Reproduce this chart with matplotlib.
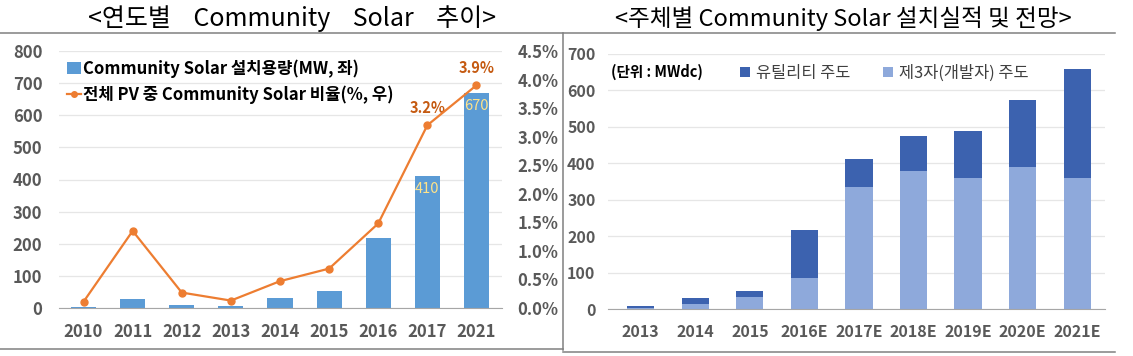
import matplotlib
matplotlib.use("Agg")
import matplotlib.pyplot as plt
from matplotlib.lines import Line2D
from matplotlib.patches import Patch
import numpy as np

plt.rcParams['font.family'] = ['Noto Sans CJK KR', 'DejaVu Sans']

# left chart data
years = ['2010', '2011', '2012', '2013', '2014', '2015', '2016', '2017', '2021']
capacity = [4, 27, 8, 5, 31, 52, 217, 410, 670]
share = [0.11, 1.35, 0.27, 0.13, 0.47, 0.69, 1.48, 3.2, 3.9]

# right chart data
years2 = ['2013', '2014', '2015', '2016E', '2017E', '2018E', '2019E', '2020E', '2021E']
third_party = [4, 15, 32, 86, 335, 380, 360, 390, 360]
utility = [4, 16, 18, 131, 76, 95, 129, 185, 298]

blue = '#5B9BD5'
orange = '#ED7D31'
dark = '#3C62AF'
light = '#8EA9DB'
tick_c = '#595959'
W, H = 1133, 356

fig = plt.figure(figsize=(W / 100, H / 100), dpi=100)

def fx(px):
    return px / W

def fy(py):
    return 1 - py / H

# frame lines
fc = '#808080'
fig.add_artist(Line2D([0, fx(1115)], [fy(33), fy(33)], color=fc, lw=1.1))
fig.add_artist(Line2D([fx(563), fx(563)], [fy(33), fy(350)], color=fc, lw=1.1))
fig.add_artist(Line2D([0, fx(563)], [fy(348.5), fy(348.5)], color=fc, lw=1.1))
fig.add_artist(Line2D([fx(563), fx(1115)], [fy(351.5), fy(351.5)], color=fc, lw=1.1))

fig.text(fx(292), fy(19), '<연도별    Community    Solar    추이>', ha='center', va='center',
         fontsize=18, color='black')
fig.text(fx(843), fy(19), '<주체별 Community Solar 설치실적 및 전망>', ha='center', va='center',
         fontsize=17, color='black')

# ---------- left chart ----------
ax = fig.add_axes([fx(59), fy(308), fx(502 - 59), fy(51) - fy(308)])
x = np.arange(len(years))
ax.bar(x, capacity, width=0.51, color=blue, zorder=2)
ax.set_ylim(0, 800)
ax.set_xlim(-0.5, len(years) - 0.48)
ax.set_yticks(range(0, 801, 100))
ax.yaxis.grid(True, color='#E6E6E6', lw=0.9, zorder=0)
ax.set_xticks(x)
ax.set_xticklabels(years)
for s in ['top', 'right', 'left']:
    ax.spines[s].set_visible(False)
ax.spines['bottom'].set_color('#A6A6A6')
ax.tick_params(length=0, labelcolor=tick_c, labelsize=12, pad=11)
ax.tick_params(axis='y', pad=12)
for lab in ax.get_xticklabels() + ax.get_yticklabels():
    lab.set_fontweight('bold')

ax2 = ax.twinx()
ax2.plot(x, share, color=orange, lw=1.6, marker='o', ms=5, zorder=4)
ax2.set_ylim(0, 4.5)
ax2.set_yticks(np.arange(0, 4.51, 0.5))
ax2.set_yticklabels(['%.1f%%' % v for v in np.arange(0, 4.51, 0.5)])
for s in ['top', 'right', 'left', 'bottom']:
    ax2.spines[s].set_visible(False)
ax2.tick_params(length=0, labelcolor=tick_c, labelsize=12, pad=11)
for lab in ax2.get_yticklabels():
    lab.set_fontweight('bold')
for i in [7, 8]:
    ax2.text(x[i], share[i] + 0.31, '%.1f%%' % share[i], ha='center', va='center',
             color='#C55A11', fontsize=10.5, fontweight='bold')
    # bar value labels drawn on top of the line
    ax2.text(x[i], capacity[i] - 40, str(capacity[i]), transform=ax.transData,
             ha='center', va='center', color='#FFE38A', fontsize=10.5, zorder=6)

h1 = Patch(facecolor=blue)
h2 = Line2D([], [], color=orange, lw=1.6, marker='o', ms=4)
leg = ax2.legend([h1, h2], ['Community Solar 설치용량(MW, 좌)', '전체 PV 중 Community Solar 비율(%, 우)'],
                 loc='upper left', bbox_to_anchor=(0.0, 1.0), frameon=False,
                 prop={'weight': 'bold', 'size': 12}, handlelength=0.8, handletextpad=0.15,
                 labelspacing=0.45, borderaxespad=0.1)

# ---------- right chart ----------
bx = fig.add_axes([fx(608), fy(309), fx(1105 - 608), fy(54) - fy(309)])
x2 = np.arange(len(years2))
bx.bar(x2, third_party, width=0.5, color=light, zorder=2, label='제3자(개발자) 주도')
bx.bar(x2, utility, width=0.5, bottom=third_party, color=dark, zorder=2, label='유틸리티 주도')
bx.set_ylim(0, 700)
bx.set_xlim(-0.6, len(years2) - 0.49)
bx.set_yticks(range(0, 701, 100))
bx.yaxis.grid(True, color='#E6E6E6', lw=0.9, zorder=0)
bx.set_xticks(x2)
bx.set_xticklabels(years2)
for s in ['top', 'right', 'left']:
    bx.spines[s].set_visible(False)
bx.spines['bottom'].set_color('#A6A6A6')
bx.tick_params(length=0, labelcolor=tick_c, labelsize=11.5, pad=11)
bx.tick_params(axis='y', pad=9)
for lab in bx.get_xticklabels() + bx.get_yticklabels():
    lab.set_fontweight('bold')
bx.text(-0.54, 651, '(단위 : MWdc)', ha='left', va='center', fontsize=10.5,
        fontweight='bold', color='black')
handles, labels = bx.get_legend_handles_labels()
bx.legend(handles[::-1], labels[::-1], loc='center left', bbox_to_anchor=(0.265, 0.925),
          ncol=2, frameon=False, prop={'size': 11.8}, labelcolor='#404040',
          handlelength=0.62, handleheight=0.62, handletextpad=0.35, columnspacing=2.0,
          borderaxespad=0, borderpad=0)

fig.savefig('out.png', dpi=100)
